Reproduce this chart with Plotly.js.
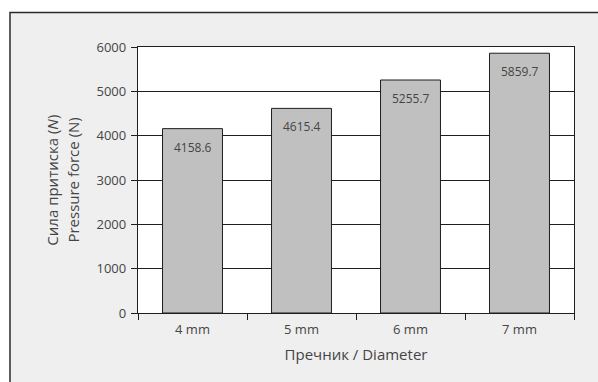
<!DOCTYPE html>
<html>
<head>
<meta charset="utf-8">
<script src="https://cdn.plot.ly/plotly-3.0.1.min.js"></script>
<style>
  html, body { margin: 0; padding: 0; background: #ffffff; }
  #chart { width: 598px; height: 382px; }
</style>
</head>
<body>
<div id="chart"></div>
<script>
// Pressure force for each bolt diameter
const diameters = ['4 mm', '5 mm', '6 mm', '7 mm'];
const forces = [4158.6, 4615.4, 5255.7, 5859.7];
const yTicks = [0, 1000, 2000, 3000, 4000, 5000, 6000];

const FONT = '"Open Sans", "DejaVu Sans", sans-serif';
const TEXT = '#454545';

const bars = {
  type: 'bar',
  x: diameters,
  y: forces,
  width: 0.55,
  marker: { color: '#c0c0c0', line: { color: '#1e1e1e', width: 1 } },
  hoverinfo: 'x+y'
};

// value labels just inside the top of each bar
const valueLabels = diameters.map((d, i) => ({
  x: d, y: forces[i], xref: 'x', yref: 'y',
  text: forces[i].toFixed(1),
  showarrow: false, yanchor: 'top', yshift: -8,
  font: { family: FONT, size: 12, color: TEXT }
}));

const layout = {
  width: 598, height: 382,
  margin: { l: 138, r: 24, t: 46.5, b: 69.3, pad: 0 },
  paper_bgcolor: '#ffffff',
  plot_bgcolor: '#ffffff',
  showlegend: false,
  font: { family: FONT, size: 13, color: TEXT },
  xaxis: {
    type: 'category',
    tickson: 'boundaries',
    ticks: 'outside', ticklen: 6, tickcolor: '#1e1e1e', tickwidth: 1,
    ticklabelstandoff: 4,
    showgrid: false,
    showline: true, linecolor: '#1e1e1e', linewidth: 1.2, mirror: true,
    tickfont: { family: FONT, size: 13, color: TEXT },
    title: { text: 'Пречник / Diameter', font: { family: FONT, size: 15, color: TEXT }, standoff: 12 },
    fixedrange: true
  },
  yaxis: {
    range: [0, 6000],
    tickvals: yTicks,
    ticks: 'outside', ticklen: 6, tickcolor: '#1e1e1e', tickwidth: 1,
    ticklabelstandoff: 2,
    showgrid: true, gridcolor: '#1e1e1e', gridwidth: 1,
    zeroline: false,
    showline: true, linecolor: '#1e1e1e', linewidth: 1.2, mirror: true,
    tickfont: { family: FONT, size: 13, color: TEXT },
    fixedrange: true
  },
  shapes: [
    // grey panel with a dark frame behind the whole chart
    { type: 'rect', xref: 'paper', yref: 'paper', layer: 'below',
      x0: -0.2936, x1: 1.08, y0: -0.3, y1: 1.1296,
      fillcolor: '#efefef', line: { color: '#2a2a2a', width: 1.5 } },
    // white plotting area
    { type: 'rect', xref: 'paper', yref: 'paper', layer: 'below',
      x0: 0, x1: 1, y0: 0, y1: 1,
      fillcolor: '#ffffff', line: { width: 0 } }
  ],
  annotations: valueLabels.concat([
    { xref: 'paper', yref: 'paper', x: -0.198, y: 0.5, xanchor: 'center', yanchor: 'middle',
      textangle: -90, showarrow: false,
      text: 'Сила притиска (<i>N</i>)',
      font: { family: FONT, size: 15, color: TEXT } },
    { xref: 'paper', yref: 'paper', x: -0.15, y: 0.5, xanchor: 'center', yanchor: 'middle',
      textangle: -90, showarrow: false,
      text: 'Pressure force (N)',
      font: { family: FONT, size: 15, color: TEXT } }
  ])
};

Plotly.newPlot('chart', [bars], layout, { displayModeBar: false, staticPlot: true });
</script>
</body>
</html>
